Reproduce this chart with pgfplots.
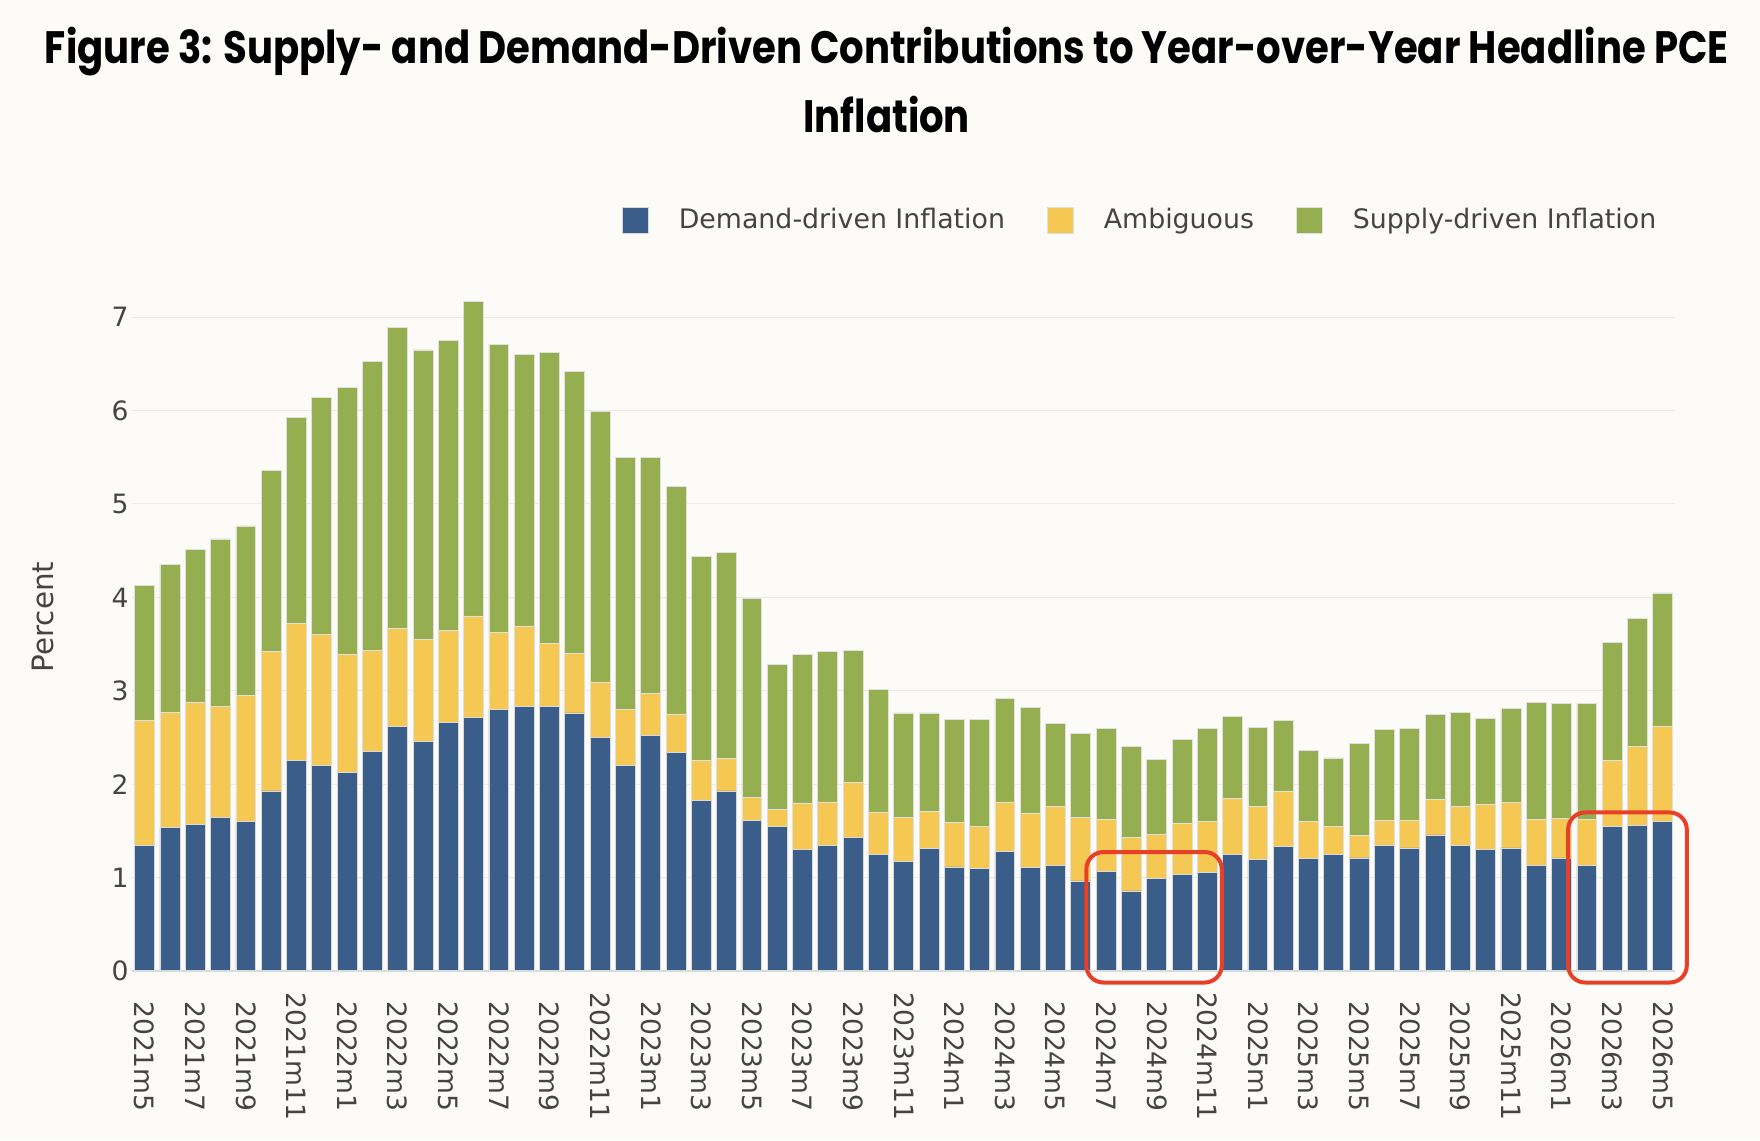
\documentclass[border=0pt]{standalone}
\usepackage{pgfplots}
\pgfplotsset{compat=1.18}
\usepackage{pgfplotstable}
\usepackage{fontspec}
\usepackage{graphicx}
\setmainfont{DejaVu Sans}
\newfontfamily\titlefont{Poppins}
\definecolor{bg}{RGB}{252,251,247}
\definecolor{cblue}{RGB}{58,94,137}
\definecolor{cyellow}{RGB}{244,200,83}
\definecolor{cgreen}{RGB}{148,174,80}
\definecolor{txt}{RGB}{68,68,68}
\definecolor{gridc}{RGB}{235,235,235}
\definecolor{zline}{RGB}{218,218,218}
\definecolor{cred}{RGB}{232,64,40}
\newsavebox\tbox

\pgfplotstableread{
x d a s
0 1.351 1.331 1.443
1 1.535 1.239 1.581
2 1.571 1.305 1.638
3 1.643 1.192 1.791
4 1.602 1.346 1.817
5 1.929 1.490 1.939
6 2.252 1.474 2.200
7 2.206 1.402 2.533
8 2.124 1.269 2.856
9 2.354 1.075 3.091
10 2.615 1.049 3.225
11 2.462 1.085 3.101
12 2.661 0.983 3.106
13 2.712 1.090 3.363
14 2.799 0.824 3.081
15 2.830 0.865 2.907
16 2.830 0.681 3.111
17 2.764 0.639 3.015
18 2.503 0.593 2.897
19 2.206 0.598 2.692
20 2.523 0.445 2.528
21 2.339 0.414 2.436
22 1.832 0.425 2.185
23 1.929 0.353 2.196
24 1.617 0.246 2.129
25 1.551 0.184 1.545
26 1.300 0.501 1.592
27 1.351 0.461 1.612
28 1.433 0.583 1.418
29 1.249 0.455 1.310
30 1.172 0.471 1.121
31 1.315 0.399 1.050
32 1.116 0.481 1.095
33 1.100 0.446 1.146
34 1.279 0.533 1.110
35 1.111 0.583 1.131
36 1.131 0.635 0.885
37 0.967 0.676 0.906
38 1.070 0.552 0.973
39 0.860 0.573 0.977
40 0.998 0.466 0.798
41 1.039 0.548 0.895
42 1.054 0.548 0.993
43 1.249 0.604 0.870
44 1.192 0.568 0.845
45 1.331 0.598 0.758
46 1.203 0.399 0.762
47 1.254 0.292 0.737
48 1.213 0.240 0.988
49 1.351 0.261 0.972
50 1.320 0.292 0.983
51 1.459 0.383 0.906
52 1.351 0.415 1.008
53 1.305 0.481 0.916
54 1.320 0.487 1.008
55 1.131 0.491 1.254
56 1.213 0.425 1.228
57 1.131 0.496 1.239
58 1.546 0.706 1.269
59 1.556 0.849 1.372
60 1.602 1.023 1.423
}\datatable

\pgfplotsset{
  sqlegend/.style={legend image code/.code={\fill[##1] (0pt,-6.5pt) rectangle (13pt,6.5pt);}},
}

\begin{document}
\sbox\tbox{\titlefont\bfseries\fontsize{22.7pt}{27pt}\selectfont Figure 3: Supply- and Demand-Driven Contributions to Year-over-Year Headline PCE}%
\pgfmathsetmacro\tsx{841.8/\the\wd\tbox}%
\begin{tikzpicture}
\fill[bg] (0,0) rectangle (880pt,570pt);
\useasboundingbox (0,0) rectangle (880pt,570pt);
\begin{axis}[
  at={(66pt,84.35pt)}, anchor=south west,
  scale only axis, width=771.7pt, height=352.85pt,
  xmin=-0.5, xmax=60.5, ymin=0, ymax=7.55,
  ybar stacked, bar width=0.787,
  clip=false,
  axis line style={draw=none},
  major tick length=0pt,
  tick style={draw=none},
  ytick={0,1,...,7},
  ymajorgrids, grid style={gridc, line width=0.5pt},
  xtick={0,2,...,60},
  xticklabels={2021m5,2021m7,2021m9,2021m11,2022m1,2022m3,2022m5,2022m7,2022m9,2022m11,2023m1,2023m3,2023m5,2023m7,2023m9,2023m11,2024m1,2024m3,2024m5,2024m7,2024m9,2024m11,2025m1,2025m3,2025m5,2025m7,2025m9,2025m11,2026m1,2026m3,2026m5},
  tick label style={font=\fontsize{13.3}{15}\selectfont, color=txt},
  /pgf/number format/assume math mode=true,
  yticklabel style={anchor=east, inner sep=0pt, xshift=-1.5pt},
  xticklabel style={anchor=center, inner sep=0pt, yshift=-42.6pt, rotate=-90},
  ylabel={Percent},
  every axis y label/.style={at={(axis description cs:-0.0577,0.502)}, rotate=90, anchor=center, font=\fontsize{14.7}{17}\selectfont, color=txt},
  legend columns=3,
  legend style={at={(axis description cs:0.3175,1.0646)}, anchor=west, draw=none, fill=none, inner sep=0pt, outer sep=0pt,
    font=\fontsize{13.4}{15}\selectfont, text=txt,
    /tikz/every even column/.append style={column sep=21pt},
    /tikz/every odd column/.append style={column sep=15pt},
    nodes={inner sep=0pt}},
]
\addplot[fill=cblue, draw=black!15, line width=0.4pt, sqlegend] table[x=x, y=d] {\datatable};
\addplot[fill=cyellow, draw=black!12, line width=0.4pt, sqlegend] table[x=x, y=a] {\datatable};
\addplot[fill=cgreen, draw=black!12, line width=0.4pt, sqlegend] table[x=x, y=s] {\datatable};
\legend{Demand-driven Inflation, Ambiguous, Supply-driven Inflation}
\coordinate (z0) at (axis cs:-0.5,0);
\coordinate (z1) at (axis cs:60.5,0);
\coordinate (ba0) at (axis cs:37.22,-0.12);
\coordinate (ba1) at (axis cs:42.57,1.276);
\coordinate (bb0) at (axis cs:56.26,-0.12);
\coordinate (bb1) at (axis cs:60.95,1.699);
\end{axis}
\draw[zline, line width=1.2pt] (z0) -- (z1);
\draw[cred, line width=2pt, rounded corners=8.5pt] (ba0) rectangle (ba1);
\draw[cred, line width=2pt, rounded corners=8.5pt] (bb0) rectangle (bb1);
\node[anchor=base, inner sep=0pt] at (443.35pt,538.35pt) {\scalebox{\tsx}[1]{\usebox\tbox}};
\node[anchor=base, inner sep=0pt] at (443.35pt,503.65pt) {\scalebox{\tsx}[1]{\titlefont\bfseries\fontsize{22.7pt}{27pt}\selectfont Inflation}};
\end{tikzpicture}
\end{document}
